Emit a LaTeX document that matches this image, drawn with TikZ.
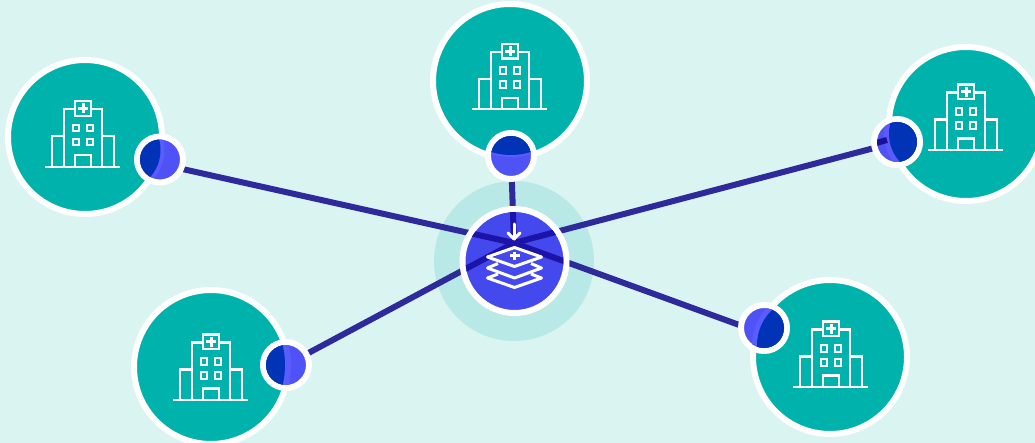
\documentclass[tikz,border=0pt]{standalone}
\usepackage{xcolor}

\definecolor{paleback}{HTML}{D9F4F1}
\definecolor{haloteal}{HTML}{B8E9E7}
\definecolor{hospteal}{HTML}{00B2AC}
\definecolor{linkblue}{HTML}{2E2A9B}
\definecolor{linkdeep}{HTML}{1C14A8}
\definecolor{coreblue}{HTML}{4449EE}
\definecolor{badgeblue}{HTML}{4F52F5}
\definecolor{badgeband}{HTML}{5A5CFF}
\definecolor{badgedark}{HTML}{0033B5}

\tikzset{
  hospital/.style={circle,draw=white,fill=hospteal,line width=6pt,minimum size=154pt,inner sep=0pt,outer sep=0pt},
  badge/.style={circle,draw=white,fill=badgeblue,line width=6pt,minimum size=46pt,inner sep=0pt,outer sep=0pt},
  core/.style={circle,draw=white,fill=coreblue,line width=6pt,minimum size=104pt,inner sep=0pt,outer sep=0pt},
  halo/.style={circle,fill=haloteal,minimum size=160pt,inner sep=0pt,outer sep=0pt},
  link/.style={draw=linkblue,line width=6pt},
  linkin/.style={draw=linkdeep,line width=6pt},
  icon/.style={draw=white,line width=2.3pt},
  hospicon/.pic={
    \draw[icon] (-37.5,0) -- (37.5,0);
    \draw[icon] (-18.3,0) -- (-18.3,-57.5) -- (-7.3,-57.5);
    \draw[icon] (8.3,-57.5) -- (19.3,-57.5) -- (19.3,0);
    \draw[icon] (-18.3,-30.5) -- (-30.3,-30.5) -- (-30.3,0);
    \draw[icon] (19.3,-30.5) -- (31.3,-30.5) -- (31.3,0);
    \draw[icon] (-7.3,-65.5) rectangle (8.3,-50.9);
    \draw[icon,line width=3pt] (-4.5,-58.2) -- (5.5,-58.2);
    \draw[icon,line width=3pt] (0.5,-63.2) -- (0.5,-53.2);
    \foreach \wx in {-9.6,4.4}{
      \foreach \wy in {-41.8,-27.8}{
        \draw[icon,line width=2pt] (\wx,\wy) rectangle ++(6.4,6.4);
      }
    }
    \draw[icon] (-7.3,0) -- (-7.3,-11.5) -- (8.3,-11.5) -- (8.3,0);
  }
}

\begin{document}
\begin{tikzpicture}[x=1pt,y=-1pt]

\useasboundingbox (0,0) rectangle (1035,443);
\clip (0,0) rectangle (1035,443);
\fill[paleback] (0,0) rectangle (1035,443);

\node [halo] (glow) at (514,261) {};
\coordinate (hub) at (514,243); % Where the links meet

% Link ends sit under the badges
\foreach \name/\bx/\by in {e1/160/164, e2/511/156, e3/897/142, e4/764/334, e5/286/365}{
    \coordinate (\name) at (\bx,\by);
    \draw[link] (hub) -- (\name);
}

\node [core] (centre) at (514.5,261) {};
\begin{scope}
    \clip (centre.center) circle (49);
    \foreach \name in {e1,e2,e3,e4,e5}{
        \draw[linkin] (hub) -- (\name);
    }
\end{scope}

% Hospitals and their icons
\foreach \name/\hx/\hy/\gx/\gy in {h1/85/137/82.5/166.7, h2/510/81/509.5/109.3, h3/966/124/965.5/150, h4/830/357/830.5/387, h5/211/367/210.5/400}{
    \node [hospital] (\name) at (\hx,\hy) {};
    \pic at (\gx,\gy) {hospicon};
}

% Badges: name, place, centre of the dark part, its radius, width of the band
\foreach \name/\bx/\by/\dx/\dy/\rad/\wide in {n1/160/159.5/-40/-9.5/40.5/4, n2/511/156/0/-68/67/2, n3/897/142/33/-8/41/5, n4/764/328/41/17/48/5, n5/286/365/-87/0/86/6}{
    \node [badge] (\name) at (\bx,\by) {};
    \begin{scope}
        \clip (\name.center) circle (20);
        \fill[badgeband] ({\bx+\dx},{\by+\dy}) circle ({\rad+\wide});
        \fill[badgedark] ({\bx+\dx},{\by+\dy}) circle (\rad);
    \end{scope}
}

\coordinate (stub) at (887,140);
\begin{scope}
    \clip (n3.center) circle (20);
    \draw[line width=6pt,draw=linkdeep!90!black] (hub) -- (stub); % Link shows on this badge
\end{scope}

% Icon in the middle
\draw[icon,line width=3pt,line cap=round] (514,224) -- (514,239);
\draw[icon,line width=3pt,line cap=round,line join=round] (508,233) -- (514,239) -- (520,233);
\draw[icon,line width=3pt,line join=round] (514.5,247.5) -- (541.5,257) -- (514.5,266.5) -- (487.5,257) -- cycle;
\draw[icon,line width=3pt,line join=round] (498,263.5) -- (487.5,268) -- (514.5,278) -- (541.5,268) -- (531,263.5);
\draw[icon,line width=3pt,line join=round] (498,274) -- (487.5,278) -- (514.5,287.5) -- (541.5,278) -- (531,274);
\draw[icon,line width=3pt] (509.5,256) -- (519.5,256);
\draw[icon,line width=3pt] (514.5,252) -- (514.5,260);

\end{tikzpicture}
\end{document}
